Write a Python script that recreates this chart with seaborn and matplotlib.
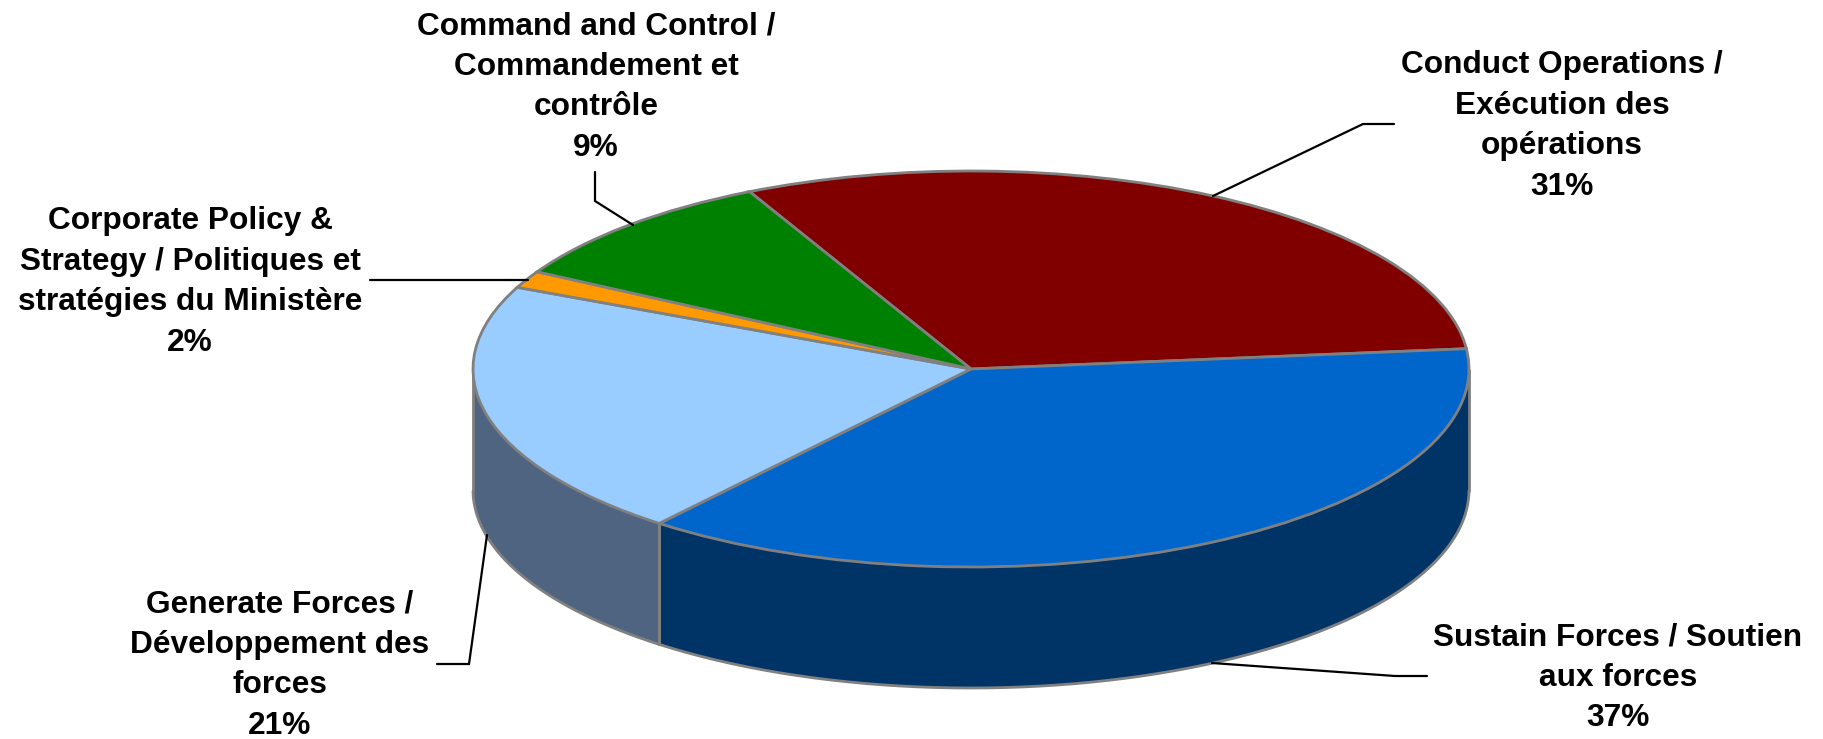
import numpy as np
import seaborn as sns
import matplotlib.pyplot as plt

labels = [
    "Conduct Operations /\nExécution des\nopérations\n31%",
    "Sustain Forces / Soutien\naux forces\n37%",
    "Generate Forces /\nDéveloppement des\nforces\n21%",
    "Corporate Policy &\nStrategy / Politiques et\nstratégies du Ministère\n2%",
    "Command and Control /\nCommandement et\ncontrôle\n9%",
]
# slice shares (the printed labels are rounded)
shares = [30.7, 37.4, 21.0, 1.4, 9.5]
top_colors = ["#800000", "#0066CC", "#99CCFF", "#FF9900", "#008000"]
side_colors = ["#400000", "#003366", "#4F6480", "#804C00", "#004000"]

# layout in pixels of the output image
W, H = 1824, 739
cx, cy, rx, ry, depth = 971, 369, 498, 198, 121
start_angle = 116.4
label_xy = [(1562, 126), (1618, 678), (280, 665), (190, 282), (596, 87)]
leaders = [
    [(1213, 196), (1363, 124), (1394, 124)],
    [(1212, 663), (1395, 676), (1427, 676)],
    [(487, 535), (469, 664), (437, 664)],
    [(528, 280), (370, 280)],
    [(633, 225), (595, 201), (595, 172)],
]

sns.set_theme(style="white")
plt.rcParams["font.family"] = ["Liberation Sans", "DejaVu Sans"]

fig = plt.figure(figsize=(W / 100, H / 100), dpi=100)
ax = fig.add_axes([0, 0, 1, 1])

wedges, _ = ax.pie(
    shares,
    startangle=start_angle,
    counterclock=False,
    colors=sns.color_palette(top_colors),
    wedgeprops={"edgecolor": "#808080", "linewidth": 2, "zorder": 3},
)

# the front wall: only what lies below the horizontal axis can be seen
d = depth / ry
edges = start_angle - 3.6 * np.cumsum([0] + shares)
for i, color in enumerate(side_colors):
    a0, a1 = np.deg2rad(edges[i + 1]), np.deg2rad(edges[i])
    t = np.linspace(a0, a1, 200) % (2 * np.pi)
    t = np.sort(t[(t >= np.pi) & (t <= 2 * np.pi)])
    if len(t) == 0:
        continue
    x, y = np.cos(t), np.sin(t)
    ax.fill_between(x, y, y - d, color=color, linewidth=0, zorder=1)
    ax.plot(x, y - d, color="#808080", lw=2, zorder=2)
    ax.plot([x[0], x[0]], [y[0], y[0] - d], color="#808080", lw=2, zorder=2)
    ax.plot([x[-1], x[-1]], [y[-1], y[-1] - d], color="#808080", lw=2, zorder=2)

ax.set_aspect("auto")
ax.set_xlim(-cx / rx, (W - cx) / rx)
ax.set_ylim((cy - H) / ry, cy / ry)
ax.axis("off")

# labels and leader lines sit on a pixel-scaled overlay
over = fig.add_axes([0, 0, 1, 1])
over.set_xlim(0, W)
over.set_ylim(H, 0)
over.axis("off")
for line in leaders:
    xs, ys = zip(*line)
    over.plot(xs, ys, color="black", lw=1.6, solid_joinstyle="miter")
for text, (tx, ty) in zip(labels, label_xy):
    over.text(tx, ty, text, ha="center", va="center", fontsize=22.8,
              fontweight="bold", color="black", linespacing=1.45)

fig.savefig("out.png", dpi=100)
